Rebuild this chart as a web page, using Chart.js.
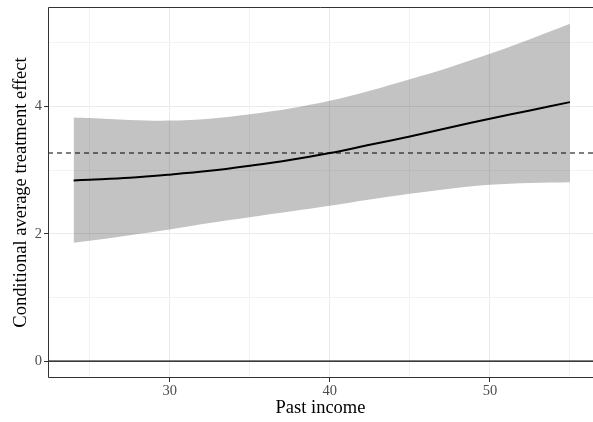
<!DOCTYPE html>
<html>
<head>
<meta charset="utf-8">
<script src="https://cdn.jsdelivr.net/npm/chart.js@4/dist/chart.umd.min.js"></script>
<style>
  html, body { margin: 0; padding: 0; background: #fff; }
  #wrap { width: 593px; height: 422px; }
</style>
</head>
<body>
<div id="wrap"><canvas id="cate"></canvas></div>
<script>
// values
const incomeGrid  = [24, 25, 27.5, 30, 32.5, 35, 37.5, 40, 42.5, 45, 47.5, 50, 52.5, 55];
const cateEstimate = [2.84, 2.85, 2.88, 2.93, 2.99, 3.07, 3.16, 3.27, 3.40, 3.53, 3.67, 3.81, 3.94, 4.07];
const cateUpper    = [3.83, 3.82, 3.79, 3.78, 3.81, 3.88, 3.97, 4.09, 4.25, 4.43, 4.62, 4.83, 5.06, 5.30];
const cateLower    = [1.86, 1.89, 1.98, 2.07, 2.17, 2.26, 2.35, 2.44, 2.54, 2.63, 2.71, 2.77, 2.80, 2.81];
const averageEffect = 3.27;

const xTicks = [25, 30, 35, 40, 45, 50, 55];
const xLabels = [30, 40, 50];
const yTicks = [0, 1, 2, 3, 4, 5];
const yLabels = [0, 2, 4];

// the reference panel is cut off at the right edge of the picture
const xMin = 22.4, xMax = 56.44;
const yMin = -0.265, yMax = 5.565;

const pts = ys => incomeGrid.map((x, i) => ({ x, y: ys[i] }));
const hline = y => [{ x: xMin, y }, { x: xMax, y }];

const serif = "'Liberation Serif', 'DejaVu Serif', serif";

// top, left and bottom sides of the panel frame
const panelBorder = {
  id: "panelBorder",
  afterDatasetsDraw(chart) {
    const { ctx, chartArea: a } = chart;
    const l = Math.round(a.left) + 0.5, t = Math.round(a.top) + 0.5, b = Math.round(a.bottom) - 0.5;
    ctx.save();
    ctx.strokeStyle = "#333333";
    ctx.lineWidth = 1;
    ctx.beginPath();
    ctx.moveTo(a.right, t);
    ctx.lineTo(l, t);
    ctx.lineTo(l, b);
    ctx.lineTo(a.right, b);
    ctx.stroke();
    ctx.restore();
  },
};

const gridColor = major => ctx => (ctx.tick && major.includes(ctx.tick.value) ? "#EBEBEB" : "#F3F3F3");
const tickColor = major => ctx => (ctx.tick && major.includes(ctx.tick.value) ? "#333333" : "rgba(0,0,0,0)");

new Chart(document.getElementById("cate"), {
  type: "line",
  data: {
    datasets: [
      {
        data: pts(cateUpper),
        borderWidth: 0,
        pointRadius: 0,
        fill: "+1",
        backgroundColor: "rgba(0,0,0,0.235)",
        tension: 0.35,
      },
      {
        data: pts(cateLower),
        borderWidth: 0,
        pointRadius: 0,
        fill: false,
        tension: 0.35,
      },
      {
        data: hline(0),
        borderColor: "#000",
        borderWidth: 1.2,
        pointRadius: 0,
        fill: false,
      },
      {
        data: hline(averageEffect),
        borderColor: "#000",
        borderWidth: 1.1,
        borderDash: [5, 4],
        pointRadius: 0,
        fill: false,
      },
      {
        data: pts(cateEstimate),
        borderColor: "#000",
        borderWidth: 2,
        pointRadius: 0,
        fill: false,
        tension: 0.35,
      },
    ],
  },
  options: {
    responsive: true,
    maintainAspectRatio: false,
    animation: false,
    layout: { padding: { top: 7, right: 0, left: 0, bottom: 0 } },
    plugins: { legend: { display: false }, tooltip: { enabled: false } },
    scales: {
      x: {
        type: "linear",
        min: xMin,
        max: xMax,
        afterBuildTicks: s => { s.ticks = xTicks.map(value => ({ value })); },
        afterFit: s => { s.height = 44; s.paddingLeft = 0; s.paddingRight = 0; },
        grid: { color: gridColor(xLabels), tickColor: tickColor(xLabels), tickLength: 4, lineWidth: 1 },
        border: { display: false },
        ticks: {
          autoSkip: false,
          maxRotation: 0,
          padding: 0,
          color: "#4D4D4D",
          font: { family: serif, size: 14.5 },
          callback: v => (xLabels.includes(v) ? String(v) : ""),
        },
        title: {
          display: true,
          text: "Past income",
          color: "#000",
          font: { family: serif, size: 18.5 },
          padding: { top: 0, bottom: 3 },
        },
      },
      y: {
        min: yMin,
        max: yMax,
        afterBuildTicks: s => { s.ticks = yTicks.map(value => ({ value })); },
        afterFit: s => { s.width = 48; s.paddingTop = 0; s.paddingBottom = 0; },
        grid: { color: gridColor(yLabels), tickColor: tickColor(yLabels), tickLength: 4, lineWidth: 1 },
        border: { display: false },
        ticks: {
          autoSkip: false,
          padding: 2,
          color: "#4D4D4D",
          font: { family: serif, size: 14.5 },
          callback: v => (yLabels.includes(v) ? String(v) : ""),
        },
        title: {
          display: true,
          text: "Conditional average treatment effect",
          color: "#000",
          font: { family: serif, size: 18.5 },
          padding: { top: 10, bottom: 0 },
        },
      },
    },
  },
  plugins: [panelBorder],
});
</script>
</body>
</html>
